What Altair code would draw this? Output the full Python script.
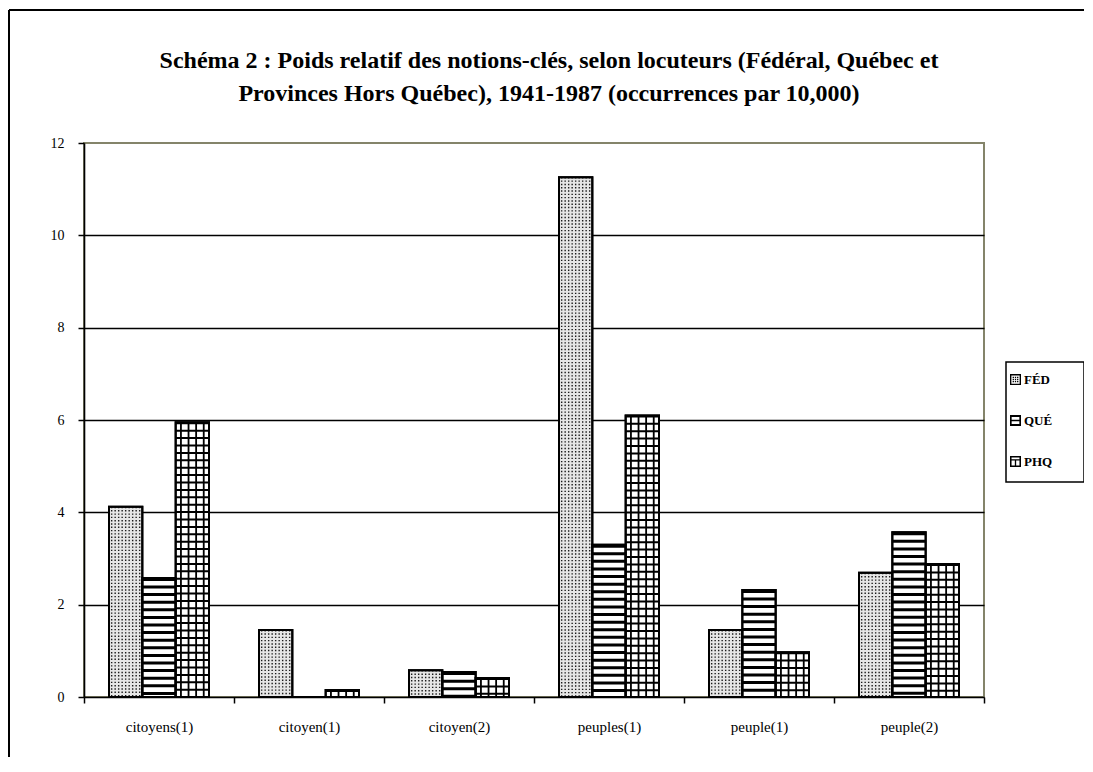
import altair as alt
import pandas as pd

categories = ["citoyens(1)", "citoyen(1)", "citoyen(2)", "peuples(1)", "peuple(1)", "peuple(2)"]
series = ["FÉD", "QUÉ", "PHQ"]
fed = [4.12, 1.45, 0.58, 11.26, 1.45, 2.69]
que = [2.58, 0.0, 0.54, 3.30, 2.32, 3.57]
phq = [5.95, 0.15, 0.41, 6.10, 0.97, 2.88]
y_ticks = [0, 2, 4, 6, 8, 10, 12]
title_lines = [
    "Schéma 2 : Poids relatif des notions-clés, selon locuteurs (Fédéral, Québec et",
    "Provinces Hors Québec), 1941-1987 (occurrences par 10,000)",
]

rows = []
for s, vals in zip(series, [fed, que, phq]):
    for c, v in zip(categories, vals):
        rows.append({"cat": c, "serie": s, "val": v})
df = pd.DataFrame(rows)

FONT = "Liberation Serif"
W, H = 900, 554
SUB = W / len(categories) * (2 / 3) / 3  # width of one bar in pixels

X = alt.X("cat:N", sort=categories, title=None,
          scale=alt.Scale(paddingInner=0, paddingOuter=0),
          axis=alt.Axis(labelAngle=0, tickBand="extent", labelFont=FONT, labelFontSize=15,
                        labelColor="black", labelPadding=16, domainColor="black", domainWidth=1.6,
                        tickColor="black", tickWidth=1.5, tickSize=6, grid=False))
Y = alt.Y("val:Q", title=None,
          scale=alt.Scale(domain=[0, 12], nice=False),
          axis=alt.Axis(values=y_ticks, labelFont=FONT, labelFontSize=14, labelColor="black",
                        labelPadding=14, domainColor="black", domainWidth=1.6,
                        tickColor="black", tickWidth=1.5, tickSize=6,
                        grid=True, gridColor="black", gridWidth=1.6,
                        gridOpacity={"condition": {"test": "datum.value >= 12 || datum.value <= 0", "value": 0}, "value": 1}))
XO = alt.XOffset("serie:N", sort=series, scale=alt.Scale(paddingInner=0, paddingOuter=0.75))

base = alt.Chart(df).encode(x=X, y=Y)

bars = base.mark_bar(stroke="black", strokeWidth=2).encode(
    xOffset=XO,
    fill=alt.condition(alt.datum.serie == "FÉD", alt.value("#e6e6e6"), alt.value("#ffffff")),
)

layers = [bars]
off = {"FÉD": -SUB, "QUÉ": 0.0, "PHQ": SUB}

# FÉD: dotted stipple
for d in [-14, -10.5, -7, -3.5, 0, 3.5, 7, 10.5, 14]:
    layers.append(base.transform_filter(alt.datum.serie == "FÉD").mark_rule(
        color="#1a1a1a", strokeWidth=1.4, strokeDash=[1.4, 1.9], xOffset=off["FÉD"] + d
    ).encode(y2=alt.datum(0)))

# QUÉ: horizontal stripes
layers.append(base.transform_filter(alt.datum.serie == "QUÉ").mark_rule(
    color="black", strokeWidth=SUB, strokeDash=[3.0, 4.6], strokeCap="butt", xOffset=off["QUÉ"]
).encode(y2=alt.datum(0)))

# PHQ: grid
layers.append(base.transform_filter(alt.datum.serie == "PHQ").mark_rule(
    color="black", strokeWidth=SUB, strokeDash=[2.0, 5.4], strokeCap="butt", xOffset=off["PHQ"]
).encode(y2=alt.datum(0)))
for d in [-11.4, -3.8, 3.8, 11.4]:
    layers.append(base.transform_filter(alt.datum.serie == "PHQ").mark_rule(
        color="black", strokeWidth=1.8, xOffset=off["PHQ"] + d
    ).encode(y2=alt.datum(0)))

outline = base.mark_bar(filled=False, stroke="black", strokeWidth=2).encode(xOffset=XO)
layers.append(outline)

one = pd.DataFrame({"k": [0]})
legend_box = alt.Chart(one).mark_rect(fill="white", fillOpacity=0, stroke="black", strokeWidth=1.5).encode(
    x=alt.value(922), x2=alt.value(1000), y=alt.value(219), y2=alt.value(339))
frame_top = alt.Chart(one).mark_rule(color="black", strokeWidth=2).encode(
    x=alt.value(-75), x2=alt.value(1100), y=alt.value(-133), y2=alt.value(-133))
frame_left = alt.Chart(one).mark_rule(color="black", strokeWidth=2).encode(
    x=alt.value(-75), x2=alt.value(-75), y=alt.value(-133), y2=alt.value(700))

p_fed = "M-1,-1H1V1H-1Z M-0.75,-0.75V0.75H0.75V-0.75Z " + " ".join(
    f"M{a-0.12:.2f},{b-0.12:.2f}H{a+0.12:.2f}V{b+0.12:.2f}H{a-0.12:.2f}Z"
    for a in (-0.4, 0.0, 0.4) for b in (-0.4, 0.0, 0.4))
p_que = "M-1,-1H1V1H-1Z M-0.7,-0.62V-0.12H0.7V-0.62Z M-0.7,0.15V0.65H0.7V0.15Z"
p_phq = ("M-1,-1H1V1H-1Z M-0.72,-0.72V-0.42H0.72V-0.72Z "
         "M-0.72,-0.2V0.72H-0.12V-0.2Z M0.12,-0.2V0.72H0.72V-0.2Z")

legend_df = pd.DataFrame({"serie": series})
legend_layer = alt.Chart(legend_df).mark_point(filled=True, size=0, color="black").encode(
    shape=alt.Shape("serie:N", sort=series,
                    scale=alt.Scale(domain=series, range=[p_fed, p_que, p_phq]),
                    legend=alt.Legend(title=None, orient="none", legendX=925, legendY=230,
                                      symbolSize=121, symbolStrokeWidth=0, symbolFillColor="black",
                                      symbolOpacity=1, labelFont=FONT, labelFontSize=13,
                                      labelFontWeight="bold", labelColor="black", rowPadding=27,
                                      padding=0, labelOffset=2, zindex=5)))

chart = alt.layer(frame_top, frame_left, legend_box, *layers, legend_layer).properties(
    width=W, height=H,
    autosize=alt.AutoSizeParams(type="none"),
    padding={"left": 76, "top": 135, "right": 100, "bottom": 60},
    title=alt.TitleParams(text=title_lines, font=FONT, fontSize=24, fontWeight="bold",
                          color="black", anchor="middle", frame="group", dx=15,
                          offset=-97, lineHeight=33),
).configure_view(stroke="#84846a", strokeWidth=2)

chart.save("out.html", embed_options={"renderer": "svg", "actions": False})
